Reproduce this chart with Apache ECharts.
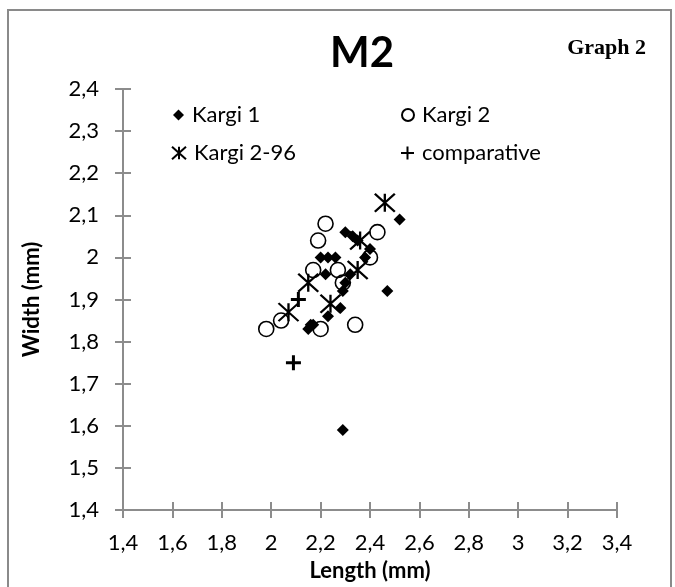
<!DOCTYPE html>
<html>
<head>
<meta charset="utf-8">
<title>M2 – Length vs Width</title>
<script src="https://cdn.jsdelivr.net/npm/echarts@6/dist/echarts.min.js"></script>
<style>
  html, body { margin: 0; padding: 0; background: #fff; }
  #chart { width: 675px; height: 587px; }
</style>
</head>
<body>
<div id="chart"></div>
<script>
// Tick labels (comma decimal separator)
const xTickLabels = ['1,4', '1,6', '1,8', '2', '2,2', '2,4', '2,6', '2,8', '3', '3,2', '3,4'];
const yTickLabels = ['1,4', '1,5', '1,6', '1,7', '1,8', '1,9', '2', '2,1', '2,2', '2,3', '2,4'];
const xMin = 1.4, xMax = 3.4, xStep = 0.2;
const yMin = 1.4, yMax = 2.4, yStep = 0.1;

// Measurements: [length (mm), width (mm)]
const kargi1 = [
  [2.52, 2.09], [2.30, 2.06], [2.33, 2.05], [2.35, 2.04], [2.40, 2.02],
  [2.38, 2.00], [2.20, 2.00], [2.23, 2.00], [2.26, 2.00], [2.22, 1.96],
  [2.32, 1.96], [2.30, 1.94], [2.29, 1.92], [2.47, 1.92], [2.28, 1.88],
  [2.23, 1.86], [2.17, 1.84], [2.15, 1.83], [2.16, 1.84], [2.29, 1.59]
];
const kargi2 = [
  [2.22, 2.08], [2.19, 2.04], [2.43, 2.06], [2.40, 2.00], [2.17, 1.97],
  [2.27, 1.97], [2.29, 1.94], [1.98, 1.83], [2.04, 1.85], [2.20, 1.83],
  [2.34, 1.84]
];
const kargi296 = [
  [2.46, 2.13], [2.36, 2.04], [2.35, 1.97], [2.15, 1.94], [2.24, 1.89],
  [2.07, 1.87]
];
const comparative = [
  [2.09, 1.75], [2.11, 1.90]
];

const seriesNames = ['Kargi 1', 'Kargi 2', 'Kargi 2-96', 'comparative'];

const ASTERISK = 'path://M0,0L20,18M20,0L0,18M10,0L10,18';
const PLUS = 'path://M0,8L16,8M8,0L8,16';

const FONT = 'Lato, "Open Sans", sans-serif';
const AXIS_GREY = '#8c8c8c';

const chart = echarts.init(document.getElementById('chart'), null, { renderer: 'canvas' });

function fmtX(v) { return xTickLabels[Math.round((v - xMin) / xStep)] ?? ''; }
function fmtY(v) { return yTickLabels[Math.round((v - yMin) / yStep)] ?? ''; }

const baseAxis = {
  type: 'value',
  axisLine: { show: true, onZero: false, lineStyle: { color: AXIS_GREY, width: 2 } },
  axisTick: { show: true, length: 8, lineStyle: { color: AXIS_GREY, width: 2 } },
  splitLine: { show: false }
};

chart.setOption({
  animation: false,
  backgroundColor: '#fff',
  graphic: [{
    type: 'rect',
    shape: { x: 8, y: 10, width: 663, height: 600 },
    style: { fill: 'none', stroke: '#8a8a8a', lineWidth: 2 },
    silent: true,
    z: -10
  }],
  title: [
    {
      text: 'M2',
      left: 357, top: 27,
      textAlign: 'center',
      textStyle: { fontFamily: FONT, fontWeight: 'bold', fontSize: 42, color: '#000' }
    },
    {
      text: 'Graph 2',
      right: 24, top: 32,
      textStyle: { fontFamily: '"Liberation Serif", serif', fontWeight: 'bold', fontSize: 22, color: '#000' }
    }
  ],
  legend: [
    { data: [seriesNames[0]], left: 173, top: 104, itemWidth: 11, itemHeight: 11 },
    { data: [seriesNames[1]], left: 401, top: 104, itemWidth: 12, itemHeight: 12 },
    { data: [seriesNames[2]], left: 171, top: 142, itemWidth: 14, itemHeight: 13 },
    { data: [seriesNames[3]], left: 400, top: 142, itemWidth: 13, itemHeight: 13 }
  ].map(l => Object.assign({
    orient: 'horizontal',
    itemGap: 0,
    padding: 0,
    textStyle: { fontFamily: FONT, fontSize: 22, color: '#000', padding: [0, 0, 0, 3] }
  }, l)),
  grid: { left: 123, right: 58, top: 89, bottom: 72, containLabel: false },
  xAxis: [
    Object.assign({}, baseAxis, {
      min: xMin, max: xMax, interval: xStep,
      name: 'Length (mm)',
      nameLocation: 'middle',
      nameGap: 50,
      nameTextStyle: { fontFamily: FONT, fontWeight: 'bold', fontSize: 22, color: '#000' },
      axisLabel: { margin: 22, fontFamily: FONT, fontSize: 22, color: '#000', formatter: fmtX }
    }),
    Object.assign({}, baseAxis, {
      min: xMin, max: xMax, interval: xStep, position: 'bottom',
      axisLine: { show: false },
      axisTick: { show: true, inside: true, length: 8, lineStyle: { color: AXIS_GREY, width: 2 } },
      axisLabel: { show: false }
    })
  ],
  yAxis: [
    Object.assign({}, baseAxis, {
      min: yMin, max: yMax, interval: yStep,
      name: 'Width (mm)',
      nameLocation: 'middle',
      nameGap: 80,
      nameTextStyle: { fontFamily: FONT, fontWeight: 'bold', fontSize: 22, color: '#000' },
      axisLabel: { margin: 24, fontFamily: FONT, fontSize: 22, color: '#000', formatter: fmtY }
    }),
    Object.assign({}, baseAxis, {
      min: yMin, max: yMax, interval: yStep, position: 'left',
      axisLine: { show: false },
      axisTick: { show: true, inside: true, length: 8, lineStyle: { color: AXIS_GREY, width: 2 } },
      axisLabel: { show: false }
    })
  ],
  series: [
    {
      name: seriesNames[0], type: 'scatter', data: kargi1,
      symbol: 'diamond', symbolSize: 12,
      itemStyle: { color: '#000', opacity: 1 }
    },
    {
      name: seriesNames[1], type: 'scatter', data: kargi2,
      symbol: 'circle', symbolSize: 15,
      itemStyle: { color: 'rgba(0,0,0,0)', borderColor: '#000', borderWidth: 1.6, opacity: 1 }
    },
    {
      name: seriesNames[2], type: 'scatter', data: kargi296,
      symbol: ASTERISK, symbolSize: [20, 18],
      itemStyle: { color: 'rgba(0,0,0,0)', borderColor: '#000', borderWidth: 2.2, opacity: 1 }
    },
    {
      name: seriesNames[3], type: 'scatter', data: comparative,
      symbol: PLUS, symbolSize: 15,
      itemStyle: { color: 'rgba(0,0,0,0)', borderColor: '#000', borderWidth: 3, opacity: 1 }
    }
  ]
});
</script>
</body>
</html>
